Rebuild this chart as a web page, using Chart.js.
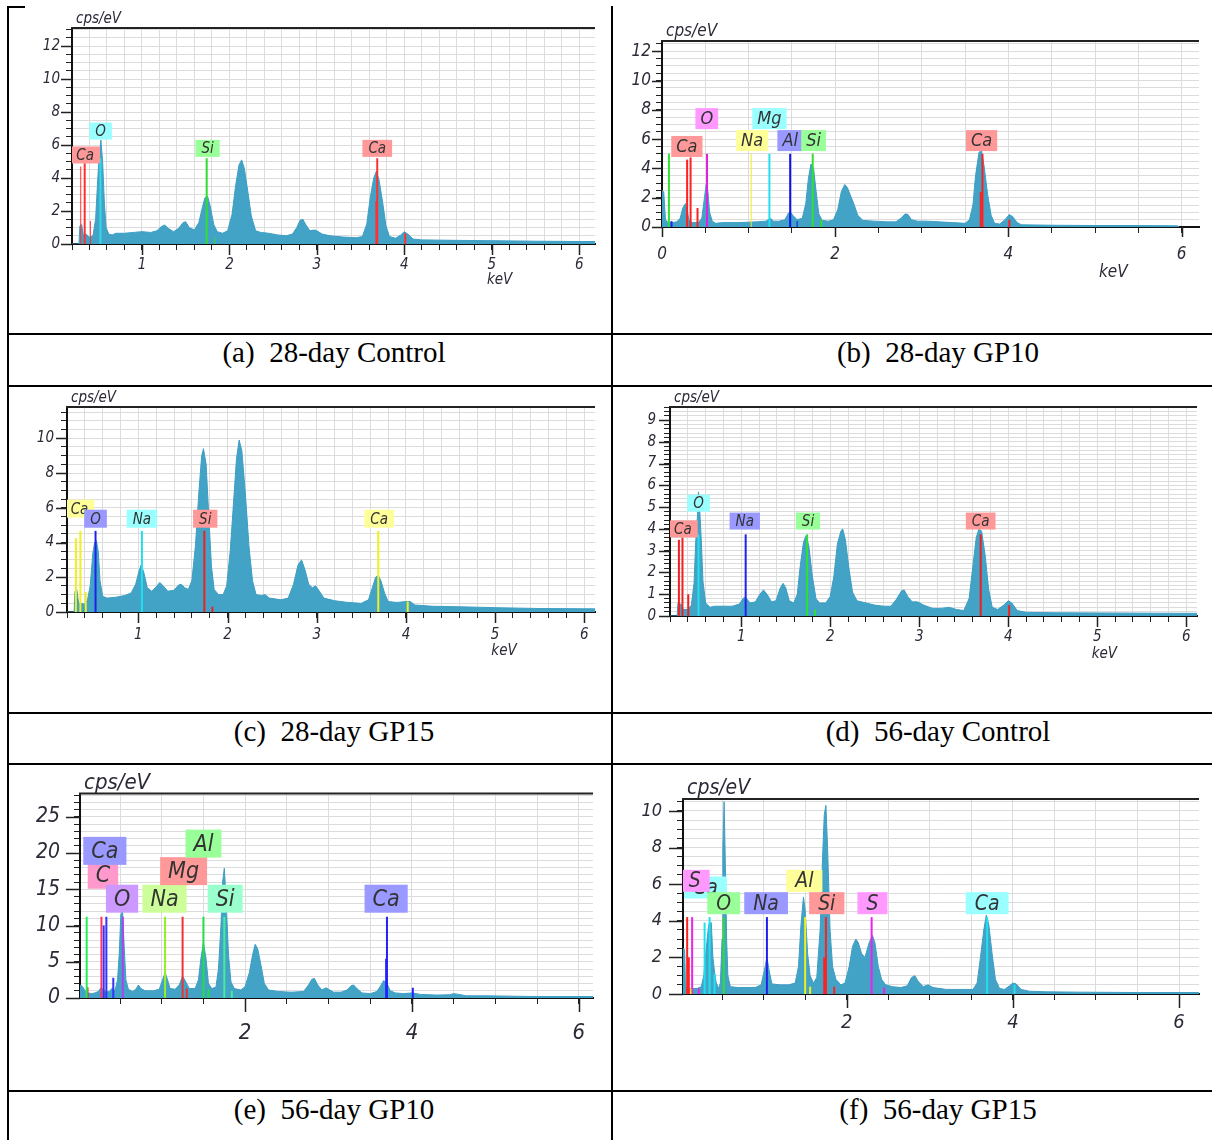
<!DOCTYPE html>
<html>
<head>
<meta charset="utf-8">
<script src="https://cdn.jsdelivr.net/npm/chart.js@4.4.0/dist/chart.umd.min.js"></script>
<style>
  body { margin: 0; width: 1212px; height: 1140px; background: #fff; position: relative; overflow: hidden; }
  .cv { position: absolute; }
  .ln { position: absolute; background: #000; }
  .cap { position: absolute; font-family: "Liberation Serif", "Times New Roman", serif; font-size: 29px;
         line-height: 30px; white-space: pre; transform: translateX(-50%); color: #000; }
</style>
</head>
<body>
<div class="ln" style="left:7px;top:6px;width:2px;height:1134px"></div>
<div class="ln" style="left:611px;top:6px;width:2px;height:1134px"></div>
<div class="ln" style="left:7px;top:6px;width:18px;height:2px"></div>
<div class="ln" style="left:7px;top:333px;width:1205px;height:2px"></div>
<div class="ln" style="left:7px;top:385px;width:1205px;height:2px"></div>
<div class="ln" style="left:7px;top:712px;width:1205px;height:2px"></div>
<div class="ln" style="left:7px;top:763px;width:1205px;height:2px"></div>
<div class="ln" style="left:7px;top:1090px;width:1205px;height:2px"></div>
<script>
// captions under each spectrum
const captions = ["(a)  28-day Control", "(b)  28-day GP10", "(c)  28-day GP15",
                  "(d)  56-day Control", "(e)  56-day GP10", "(f)  56-day GP15"];

// spectra: [keV, cps/eV]
const specA = [[0.20,0],[0.28,0],[0.29,1.1],[0.31,1.2],[0.33,0.5],[0.36,0.6],[0.40,0.4],[0.44,0.5],[0.47,1.5],[0.49,3.5],[0.51,5.3],[0.53,6.3],[0.55,5.0],[0.57,2.5],[0.59,1.0],[0.62,0.6],[0.66,0.55],[0.70,0.65],[0.80,0.65],[0.90,0.7],[1.00,0.75],[1.10,0.7],[1.17,0.8],[1.22,1.05],[1.26,1.15],[1.30,0.95],[1.36,0.75],[1.42,0.95],[1.47,1.3],[1.50,1.35],[1.54,1.0],[1.60,0.85],[1.65,1.3],[1.69,2.2],[1.72,2.8],[1.75,2.9],[1.78,2.3],[1.82,1.2],[1.86,0.75],[1.92,0.65],[1.98,0.8],[2.03,1.8],[2.07,3.5],[2.11,4.8],[2.14,5.1],[2.17,4.6],[2.21,3.2],[2.25,1.7],[2.30,0.8],[2.36,0.7],[2.45,0.65],[2.55,0.55],[2.65,0.5],[2.72,0.6],[2.77,1.0],[2.81,1.45],[2.84,1.5],[2.87,1.2],[2.92,0.8],[2.97,0.85],[3.00,0.8],[3.06,0.6],[3.15,0.5],[3.30,0.42],[3.45,0.38],[3.52,0.45],[3.57,1.2],[3.61,2.8],[3.65,4.0],[3.68,4.4],[3.71,3.9],[3.75,2.6],[3.79,1.1],[3.83,0.45],[3.90,0.35],[3.96,0.55],[4.00,0.75],[4.04,0.6],[4.10,0.3],[4.20,0.25],[4.60,0.22],[5.00,0.2],[5.50,0.17],[6.00,0.15],[6.18,0.15]];
const specB = [[0,2.5],[0.02,2.4],[0.04,0.5],[0.07,0.3],[0.12,0.3],[0.17,0.35],[0.21,0.6],[0.24,1.3],[0.27,1.6],[0.29,1.2],[0.31,0.5],[0.35,0.3],[0.42,0.3],[0.46,0.6],[0.49,2.0],[0.51,2.9],[0.53,2.4],[0.55,1.0],[0.58,0.4],[0.62,0.25],[0.70,0.3],[0.80,0.3],[0.90,0.3],[1.00,0.33],[1.10,0.35],[1.20,0.4],[1.25,0.6],[1.29,0.4],[1.35,0.4],[1.42,0.5],[1.46,0.95],[1.48,1.05],[1.51,0.8],[1.56,0.5],[1.62,0.6],[1.66,1.6],[1.69,3.3],[1.72,4.3],[1.75,4.0],[1.78,2.4],[1.81,0.9],[1.85,0.45],[1.92,0.4],[1.98,0.5],[2.03,1.2],[2.07,2.4],[2.11,2.9],[2.14,2.7],[2.18,2.1],[2.22,1.5],[2.26,0.8],[2.32,0.45],[2.45,0.4],[2.60,0.35],[2.70,0.35],[2.76,0.6],[2.81,0.9],[2.84,0.85],[2.88,0.5],[2.95,0.4],[3.05,0.4],[3.20,0.35],[3.35,0.3],[3.50,0.25],[3.55,0.5],[3.59,1.5],[3.62,3.5],[3.66,5.1],[3.69,5.2],[3.72,4.1],[3.76,2.2],[3.80,0.8],[3.84,0.25],[3.90,0.2],[3.96,0.5],[4.01,0.85],[4.05,0.7],[4.10,0.3],[4.15,0.15],[4.50,0.12],[5.00,0.1],[5.50,0.1],[5.95,0.08],[5.97,0]];
const specC = [[0.20,0],[0.28,0],[0.29,1.2],[0.31,1.3],[0.33,0.5],[0.36,0.5],[0.40,0.45],[0.43,0.7],[0.46,1.5],[0.49,3.4],[0.51,4.0],[0.53,4.1],[0.55,3.5],[0.57,1.8],[0.60,0.9],[0.65,0.8],[0.75,0.85],[0.85,0.95],[0.92,1.1],[0.97,1.6],[1.01,2.4],[1.03,2.7],[1.06,2.3],[1.10,1.4],[1.15,1.2],[1.20,1.45],[1.24,1.7],[1.28,1.5],[1.33,1.2],[1.40,1.25],[1.45,1.55],[1.48,1.6],[1.52,1.4],[1.56,1.3],[1.60,1.8],[1.64,3.8],[1.68,7.0],[1.71,9.0],[1.73,9.4],[1.76,8.5],[1.79,5.5],[1.82,2.6],[1.85,1.3],[1.90,1.0],[1.95,1.0],[1.99,1.5],[2.03,3.5],[2.07,6.5],[2.10,8.8],[2.13,9.9],[2.16,9.3],[2.20,6.8],[2.24,3.8],[2.28,1.8],[2.32,1.0],[2.38,0.95],[2.42,1.0],[2.47,0.8],[2.60,0.7],[2.68,0.8],[2.74,1.6],[2.79,2.7],[2.83,3.0],[2.87,2.4],[2.91,1.6],[2.95,1.4],[2.99,1.5],[3.03,1.2],[3.08,0.8],[3.20,0.65],[3.35,0.55],[3.50,0.5],[3.58,0.7],[3.63,1.5],[3.66,2.0],[3.69,2.1],[3.72,1.8],[3.76,1.1],[3.80,0.6],[3.90,0.55],[4.00,0.6],[4.05,0.6],[4.10,0.4],[4.30,0.33],[4.60,0.3],[5.00,0.25],[5.50,0.2],[6.12,0.18]];
const specD = [[0.20,0],[0.28,0],[0.29,0.6],[0.32,0.55],[0.35,0.3],[0.40,0.3],[0.44,0.5],[0.47,1.5],[0.49,3.5],[0.51,4.7],[0.52,5.7],[0.535,4.8],[0.55,3.6],[0.57,1.6],[0.60,0.6],[0.65,0.4],[0.70,0.45],[0.80,0.45],[0.90,0.45],[0.98,0.55],[1.03,0.85],[1.06,0.8],[1.10,0.6],[1.16,0.65],[1.21,1.0],[1.25,1.2],[1.29,1.0],[1.34,0.65],[1.39,0.7],[1.44,1.3],[1.47,1.5],[1.50,1.3],[1.54,0.7],[1.59,0.6],[1.63,1.0],[1.66,2.2],[1.70,3.4],[1.73,3.7],[1.76,3.2],[1.80,1.8],[1.84,0.8],[1.88,0.6],[1.95,0.6],[2.00,0.9],[2.04,1.8],[2.08,3.3],[2.12,3.9],[2.14,4.0],[2.17,3.5],[2.21,2.2],[2.25,1.1],[2.30,0.7],[2.40,0.6],[2.50,0.5],[2.60,0.45],[2.68,0.45],[2.74,0.75],[2.80,1.15],[2.83,1.2],[2.87,0.9],[2.92,0.65],[2.98,0.65],[3.05,0.5],[3.15,0.35],[3.25,0.35],[3.33,0.4],[3.42,0.3],[3.50,0.25],[3.56,0.8],[3.60,2.2],[3.64,3.6],[3.67,4.0],[3.70,3.9],[3.74,2.8],[3.78,1.2],[3.82,0.4],[3.88,0.3],[3.95,0.5],[4.00,0.7],[4.04,0.6],[4.10,0.25],[4.20,0.17],[4.50,0.15],[5.00,0.14],[5.50,0.13],[6.12,0.12]];
const specE = [[0.02,1.8],[0.05,1.6],[0.08,1.0],[0.12,0.7],[0.16,0.6],[0.20,0.7],[0.24,0.9],[0.27,1.4],[0.30,1.2],[0.33,0.8],[0.37,0.9],[0.41,1.4],[0.44,1.0],[0.47,2.5],[0.49,6.0],[0.51,11.5],[0.53,12.0],[0.55,7.0],[0.57,2.5],[0.60,1.2],[0.65,0.9],[0.69,1.2],[0.72,1.8],[0.75,1.3],[0.80,1.0],[0.90,1.0],[0.97,1.2],[1.01,2.5],[1.04,3.5],[1.07,2.5],[1.10,1.3],[1.16,1.2],[1.21,1.8],[1.25,3.0],[1.29,2.2],[1.33,1.3],[1.40,1.3],[1.44,2.5],[1.47,5.5],[1.50,7.6],[1.53,5.5],[1.56,2.0],[1.60,1.3],[1.65,1.5],[1.68,4.0],[1.71,10.0],[1.73,16.0],[1.75,17.9],[1.77,14.0],[1.80,6.0],[1.83,2.2],[1.87,1.3],[1.95,1.1],[2.00,1.6],[2.05,3.5],[2.09,6.0],[2.12,7.4],[2.15,6.8],[2.19,4.5],[2.23,2.0],[2.28,1.1],[2.40,0.9],[2.55,0.8],[2.70,0.9],[2.76,1.8],[2.80,2.6],[2.83,2.7],[2.87,1.8],[2.92,1.1],[2.97,1.4],[3.00,1.2],[3.06,0.8],[3.15,0.8],[3.22,1.1],[3.27,1.7],[3.30,1.8],[3.34,1.3],[3.40,0.7],[3.50,0.6],[3.58,0.9],[3.62,1.6],[3.66,2.4],[3.70,2.0],[3.74,1.0],[3.80,0.7],[3.90,0.6],[4.00,0.7],[4.10,0.5],[4.30,0.4],[4.45,0.45],[4.50,0.6],[4.56,0.5],[4.65,0.3],[4.90,0.3],[5.20,0.25],[5.50,0.2],[6.17,0.2]];
const specF = [[0.03,2.5],[0.05,2.4],[0.06,0.4],[0.10,0.3],[0.20,0.3],[0.25,0.4],[0.28,1.0],[0.31,2.5],[0.34,3.8],[0.37,3.9],[0.39,2.0],[0.41,1.2],[0.43,0.6],[0.46,0.3],[0.48,0.6],[0.50,3.0],[0.51,8.0],[0.525,10.5],[0.54,7.0],[0.555,3.0],[0.57,1.0],[0.60,0.4],[0.70,0.35],[0.80,0.35],[0.90,0.35],[0.97,0.5],[1.01,1.3],[1.04,2.0],[1.07,1.2],[1.10,0.55],[1.20,0.5],[1.30,0.5],[1.38,0.6],[1.42,1.5],[1.45,3.8],[1.48,5.3],[1.50,4.6],[1.53,2.2],[1.56,1.0],[1.60,0.6],[1.64,0.9],[1.68,3.5],[1.71,7.5],[1.73,9.8],[1.75,10.3],[1.77,8.0],[1.80,3.5],[1.83,1.5],[1.87,0.8],[1.93,0.5],[1.98,0.6],[2.03,1.5],[2.07,2.6],[2.11,3.0],[2.14,2.8],[2.18,2.2],[2.22,2.0],[2.27,2.8],[2.31,3.2],[2.34,2.8],[2.38,1.5],[2.42,0.8],[2.47,0.5],[2.55,0.4],[2.65,0.35],[2.73,0.45],[2.78,0.9],[2.82,1.0],[2.86,0.7],[2.92,0.4],[2.98,0.5],[3.04,0.35],[3.20,0.25],[3.40,0.25],[3.52,0.25],[3.57,0.6],[3.61,2.0],[3.65,3.5],[3.68,4.3],[3.71,3.8],[3.75,2.2],[3.79,0.8],[3.84,0.3],[3.90,0.25],[3.96,0.45],[4.00,0.6],[4.04,0.55],[4.10,0.25],[4.20,0.15],[4.40,0.12],[4.80,0.1],[5.50,0.08],[6.24,0.08]];

// element marker lines: [keV, height, colour, width]
const linesA = [[0.30,4.7,"#ff3030",1],[0.345,4.9,"#ff3030",2],[0.41,1.4,"#ff3030",1],[0.525,5.2,"#30d8e8",2],[1.74,5.2,"#30dd30",2],[1.835,0.4,"#30dd30",1],[3.68,2.6,"#ff3030",2],[3.69,5.2,"#ff3030",2],[4.01,0.65,"#ff3030",2]];
const linesB = [[0.08,5.0,"#30e030",2],[0.11,0.4,"#2020ff",2],[0.29,4.6,"#ff2020",2],[0.33,4.75,"#ff2020",2],[0.41,1.3,"#ff2020",2],[0.52,5.0,"#e020e0",2],[1.03,5.0,"#f0f020",1],[1.24,5.0,"#20e0f0",2],[1.48,5.0,"#1010ee",2],[1.56,0.4,"#1010ee",1],[1.74,5.0,"#30e030",2],[1.84,0.5,"#30e030",2],[3.68,2.4,"#ff2020",2],[3.70,5.0,"#ff2020",2],[4.01,0.5,"#ff2020",2]];
const linesC = [[0.30,4.25,"#f0f020",2],[0.35,4.67,"#f0f020",2],[0.41,1.15,"#f0f020",2],[0.52,4.67,"#2020ee",2],[1.04,4.67,"#20e0f0",2],[1.74,4.67,"#ee2020",2],[1.83,0.3,"#ee2020",2],[3.69,4.67,"#f0f020",2],[4.02,0.6,"#f0f020",2]];
const linesD = [[0.30,3.5,"#ee2020",2],[0.34,3.6,"#ee2020",2],[0.405,1.0,"#ee2020",2],[0.52,3.75,"#20e0f0",2],[1.05,3.75,"#2020ee",2],[1.74,3.75,"#30e030",2],[1.83,0.3,"#30e030",2],[3.69,3.75,"#ee2020",2],[4.01,0.5,"#ee2020",2]];
const linesE = [[0.10,11.2,"#22ee55",2],[0.11,1.5,"#ff2222",2],[0.277,11.2,"#ff3366",2],[0.304,10.0,"#3333ff",2],[0.336,11.2,"#3333ff",2],[0.419,2.8,"#3333ff",2],[0.533,11.2,"#aa44ee",2],[1.04,11.2,"#99ee22",2],[1.25,11.2,"#ee3333",2],[1.30,1.3,"#ee3333",2],[1.50,11.2,"#22dd44",2],[1.56,1.2,"#22dd44",2],[1.75,11.2,"#44ee99",2],[1.84,1.0,"#44ee99",2],[3.69,5.4,"#2222ff",2],[3.70,11.2,"#2222ff",2],[4.01,1.4,"#2222ff",2]];
const linesF = [[0.08,4.2,"#ff2020",2],[0.10,2.0,"#ff2020",2],[0.12,0.3,"#eeee20",2],[0.14,4.2,"#ee20ee",2],[0.22,0.3,"#ee20ee",2],[0.29,3.9,"#20e0f0",2],[0.35,4.2,"#20e0f0",2],[0.41,1.1,"#20e0f0",2],[0.52,4.2,"#30dd30",2],[1.04,4.2,"#2020ee",2],[1.50,4.2,"#eeee20",2],[1.56,0.4,"#eeee20",2],[1.73,2.0,"#ff2020",2],[1.75,4.2,"#ff2020",2],[1.85,0.4,"#ff2020",2],[2.30,4.2,"#ee20ee",2],[2.45,0.35,"#ee20ee",2],[3.69,4.2,"#20e0f0",2],[4.02,0.5,"#20e0f0",2]];

// element tags: [text, keV, cps/eV, colour]
const tagsA = [["Ca",0.35,5.4,"#ff9999"],["O",0.527,6.85,"#99ffff"],["Si",1.75,5.8,"#99ff99"],["Ca",3.69,5.8,"#ff9999"]];
const tagsB = [["O",0.517,7.4,"#ff99ff"],["Ca",0.287,5.5,"#ff9999"],["Na",1.04,5.9,"#ffff99"],["Mg",1.24,7.4,"#99ffff"],["Al",1.48,5.9,"#9999ff"],["Si",1.75,5.9,"#99ff99"],["Ca",3.69,5.9,"#ff9999"]];
const tagsC = [["Ca",0.34,5.95,"#ffff99"],["O",0.52,5.37,"#9999ff"],["Na",1.04,5.37,"#99ffff"],["Si",1.75,5.37,"#ff9999"],["Ca",3.70,5.37,"#ffff99"]];
const tagsD = [["O",0.52,5.18,"#99ffff"],["Ca",0.345,4.0,"#ff9999"],["Na",1.04,4.36,"#9999ff"],["Si",1.75,4.36,"#99ff99"],["Ca",3.69,4.36,"#ff9999"]];
const tagsE = [["C",0.295,17.0,"#ff99cc"],["Ca",0.318,20.3,"#9999ff"],["O",0.524,13.7,"#cc99ff"],["Na",1.033,13.7,"#ccff99"],["Mg",1.262,17.5,"#ff9999"],["Al",1.50,21.3,"#99ff99"],["Si",1.76,13.7,"#99ffcc"],["Ca",3.69,13.7,"#9999ff"]];
const tagsF = [["Ca",0.30,5.82,"#99ffff"],["S",0.17,6.18,"#ff99ff"],["O",0.52,4.96,"#99ff99"],["Na",1.03,4.96,"#9999ff"],["Al",1.49,6.18,"#ffff99"],["Si",1.76,4.96,"#ff9999"],["S",2.31,4.96,"#ff99ff"],["Ca",3.69,4.96,"#99ffff"]];

// axis ranges: [min, max, tick step, labelled every]
const xAxes = [[0.2,6.18,0.2,1],[0,6.2,0.5,2],[0.2,6.12,0.2,1],[0.2,6.12,0.2,1],[0.02,6.17,0.5,2],[0.03,6.24,0.5,2]];
const yAxes = [[0,13.1,0.5,2],[0,12.7,0.5,2],[0,11.8,0.5,2],[0,9.6,0.2,1],[0,28.2,1,5],[0,10.65,0.5,2]];

// layout of each panel (page pixels)
const panels = [
  { spec: specA, lines: linesA, tags: tagsA, box: [10,8,600,324],   plot: [72,28,595,244],   font: 15, xFont: 15, xPad: 6,  yPad: 6,  maj: 11, cps: 15, tagFont: 15, tagH: 17, tagPad: 6, keV: [5.09,36] },
  { spec: specB, lines: linesB, tags: tagsB, box: [614,8,598,324],  plot: [662,41,1199,227], font: 17, xFont: 17, xPad: 11, yPad: 5,  maj: 10, cps: 17, tagFont: 18, tagH: 21, tagPad: 5, keV: [5.21,46] },
  { spec: specC, lines: linesC, tags: tagsC, box: [10,388,600,323], plot: [67,407,595,612],  font: 15, xFont: 15, xPad: 8,  yPad: 7,  maj: 11, cps: 15, tagFont: 15, tagH: 18, tagPad: 6, keV: [5.1,39] },
  { spec: specD, lines: linesD, tags: tagsD, box: [614,388,598,323],plot: [670,407,1197,616], font: 15, xFont: 15, xPad: 6,  yPad: 8,  maj: 11, cps: 15, tagFont: 15, tagH: 17, tagPad: 6, keV: [5.08,38] },
  { spec: specE, lines: linesE, tags: tagsE, box: [10,767,600,322], plot: [80,788,593,998],  font: 21, xFont: 22, xPad: 16, yPad: 14, maj: 14, cps: 22, tagFont: 23, tagH: 28, tagPad: 8, keV: null },
  { spec: specF, lines: linesF, tags: tagsF, box: [614,767,598,322],plot: [683,799,1199,994], font: 18, xFont: 20, xPad: 11, yPad: 15, maj: 14, cps: 21, tagFont: 21, tagH: 22, tagPad: 9, keV: null }
];

const FAMILY = '"DejaVu Sans Condensed", "DejaVu Sans", sans-serif';
const TEXT = "#2b2b38";
const capX = [334, 938];
const capY = [337, 716, 1094];

function steps(a, b, s) {
  const out = [];
  const n0 = Math.ceil(a / s - 1e-6);
  for (let n = n0; n * s <= b + 1e-9; n++) out.push(Math.round(n * s * 1000) / 1000);
  return out;
}
function isMajor(v, m) { return Math.abs(v / m - Math.round(v / m)) < 1e-6; }

function build(p, xa, ya) {
  const cv = document.createElement("canvas");
  cv.className = "cv";
  cv.width = p.box[2]; cv.height = p.box[3];
  cv.style.left = p.box[0] + "px"; cv.style.top = p.box[1] + "px";
  cv.style.width = p.box[2] + "px"; cv.style.height = p.box[3] + "px";
  document.body.appendChild(cv);

  const [L, T, R, B] = p.plot;
  const padTop = T - p.box[1];
  const padRight = p.box[0] + p.box[2] - R;
  const yW = L - p.box[0];
  const xH = p.box[1] + p.box[3] - B;

  const datasets = p.lines.map(m => ({
    data: [{ x: m[0], y: 0 }, { x: m[0], y: m[1] }],
    borderColor: m[2], borderWidth: m[3], pointRadius: 0, fill: false, order: 0
  }));
  datasets.push({
    data: p.spec.map(d => ({ x: d[0], y: d[1] })),
    borderColor: "#3d9ec3", backgroundColor: "#42a3c6", borderWidth: 1,
    pointRadius: 0, fill: "origin", order: 1
  });

  new Chart(cv, {
    type: "line",
    data: { datasets },
    options: {
      responsive: false, animation: false, devicePixelRatio: 1,
      layout: { padding: { top: padTop, right: padRight, left: 0, bottom: 0 } },
      plugins: { legend: { display: false }, tooltip: { enabled: false } },
      scales: {
        x: {
          type: "linear", min: xa[0], max: xa[1],
          afterBuildTicks: s => { s.ticks = steps(xa[0], xa[1], xa[2]).map(v => ({ value: v })); },
          afterFit: s => { s.height = xH; },
          grid: { color: "#dcdcdc", tickColor: "#222", tickLength: 6 },
          border: { display: true, color: "#111", width: 2 },
          ticks: {
            autoSkip: false, maxRotation: 0, padding: p.xPad, color: TEXT,
            font: { family: FAMILY, size: p.xFont, style: "italic" },
            callback: v => isMajor(v, xa[3]) ? String(Math.round(v)) : ""
          }
        },
        y: {
          type: "linear", min: ya[0], max: ya[1],
          afterBuildTicks: s => { s.ticks = steps(ya[0], ya[1], ya[2]).map(v => ({ value: v })); },
          afterFit: s => { s.width = yW; },
          grid: { color: "#dcdcdc", tickColor: "#222", tickLength: 6 },
          border: { display: true, color: "#111", width: 2 },
          ticks: {
            autoSkip: false, padding: p.yPad, color: TEXT,
            font: { family: FAMILY, size: p.font, style: "italic" },
            callback: v => isMajor(v, ya[3]) ? String(Math.round(v)) : ""
          }
        }
      }
    },
    plugins: [{
      id: "extras",
      afterDatasetsDraw(chart) {
        const ctx = chart.ctx, ca = chart.chartArea;
        const xs = chart.scales.x, ys = chart.scales.y;
        ctx.save();
        ctx.beginPath();
        ctx.rect(ca.left, ca.top, ca.right - ca.left, ca.bottom - ca.top);
        ctx.clip();
        ctx.font = "italic " + p.tagFont + "px " + FAMILY;
        ctx.textAlign = "center";
        ctx.textBaseline = "middle";
        p.tags.forEach(t => {
          const px = xs.getPixelForValue(t[1]), py = ys.getPixelForValue(t[2]);
          const w = ctx.measureText(t[0]).width + 2 * p.tagPad;
          ctx.fillStyle = t[3];
          ctx.fillRect(px - w / 2, py - p.tagH / 2, w, p.tagH);
          ctx.fillStyle = "#333";
          ctx.fillText(t[0], px, py + 1);
        });
        ctx.restore();
      },
      afterDraw(chart) {
        const ctx = chart.ctx, ca = chart.chartArea;
        const xs = chart.scales.x, ys = chart.scales.y;
        ctx.save();
        ctx.strokeStyle = "#222";
        ctx.lineWidth = 2;
        ctx.beginPath();
        ctx.moveTo(ca.left - 1, ca.top);
        ctx.lineTo(ca.right, ca.top);
        ctx.stroke();
        // longer marks at the labelled ticks
        ctx.lineWidth = 1.5;
        ctx.beginPath();
        xs.ticks.forEach(t => {
          if (!isMajor(t.value, xa[3])) return;
          const px = Math.round(xs.getPixelForValue(t.value)) + 0.5;
          ctx.moveTo(px, ca.bottom); ctx.lineTo(px, ca.bottom + p.maj);
        });
        ys.ticks.forEach(t => {
          if (!isMajor(t.value, ya[3])) return;
          const py = Math.round(ys.getPixelForValue(t.value)) + 0.5;
          ctx.moveTo(ca.left, py); ctx.lineTo(ca.left - p.maj, py);
        });
        ctx.stroke();
        ctx.fillStyle = TEXT;
        ctx.font = "italic " + p.cps + "px " + FAMILY;
        ctx.textAlign = "left";
        ctx.textBaseline = "alphabetic";
        ctx.fillText("cps/eV", ca.left + 4, ca.top - 5);
        if (p.keV) {
          ctx.font = "italic " + p.xFont + "px " + FAMILY;
          ctx.textAlign = "center";
          ctx.textBaseline = "middle";
          ctx.fillText("keV", xs.getPixelForValue(p.keV[0]), ca.bottom + p.keV[1]);
        }
        ctx.restore();
      }
    }]
  });
}

panels.forEach((p, i) => build(p, xAxes[i], yAxes[i]));

captions.forEach((c, i) => {
  const d = document.createElement("div");
  d.className = "cap";
  d.textContent = c;
  d.style.left = capX[i % 2] + "px";
  d.style.top = capY[Math.floor(i / 2)] + "px";
  document.body.appendChild(d);
});
</script>
</body>
</html>
